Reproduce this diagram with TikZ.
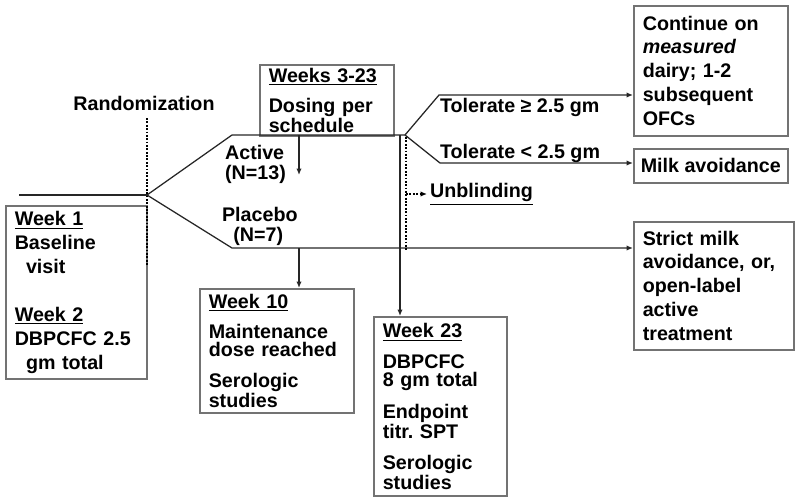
\documentclass[tikz,border=0pt]{standalone}
\usepackage{fontspec}
\setmainfont{Liberation Sans}
\usetikzlibrary{positioning,arrows.meta}

\begin{document}
\begin{tikzpicture}[
    x=0.025cm, y=-0.025cm,
    conn/.style={draw, line width=0.9pt, color=black!85},
    arr/.style={conn, -{Latex[length=4.5pt,width=3.8pt]}},
    dots/.style={draw, line width=1.4pt, dash pattern=on 1.3pt off 1.1pt},
    box/.style={draw=black!55, line width=1.1pt, anchor=north west, align=left, inner xsep=0.225cm, inner ysep=0pt, font=\fontsize{14}{17}\selectfont\bfseries},
    tbox/.style={box, font=\fontsize{14}{12.8}\selectfont\bfseries},
    lbl/.style={inner sep=2pt, align=left, font=\fontsize{14}{14.5}\selectfont\bfseries}
]
\useasboundingbox (0,0) rectangle (800,499);

% Boxes
\node[box, text width=3.075cm, minimum height=4.325cm] (wkone) at (5,205)
    {\underline{Week 1}\\Baseline\\\hspace*{8pt}visit\\[17pt]\underline{Week 2}\\DBPCFC 2.5\\\hspace*{8pt}gm total};
\node[tbox, text width=2.9cm, minimum height=1.775cm] (wksched) at (259,64)
    {\underline{Weeks 3-23}\\[9pt]Dosing per\\schedule};
\node[tbox, text width=3.4cm, minimum height=3.1cm] (wkten) at (199,288)
    {\underline{Week 10}\\[9pt]Maintenance\\dose reached\\[9pt]Serologic\\studies};
\node[tbox, text width=2.875cm, minimum height=4.475cm] (wkend) at (373,316)
    {\underline{Week 23}\\[9pt]DBPCFC\\8 gm total\\[9pt]Endpoint\\titr.\ SPT\\[9pt]Serologic\\studies};
\node[box, text width=3.4cm, minimum height=3.25cm] (contin) at (633,5)
    {Continue on\\\textit{measured}\\dairy; 1-2\\subsequent\\OFCs};
\node[box, minimum width=3.85cm, minimum height=0.85cm, inner xsep=0pt] (milkav) at (633,148)
    {Milk avoidance};
\node[box, text width=3.55cm, minimum height=3.2cm] (strict) at (633,221)
    {Strict milk\\avoidance, or,\\open-label\\active\\treatment};

% Labels
\node[lbl] (rndlbl) at (144,103) {Randomization};
\node[lbl, anchor=north west] (active) at (222,142) {Active\\(N=13)};
\node[lbl, anchor=north west] (placebo) at (219,204) {Placebo\\\hspace*{8pt}(N=7)};
\node[lbl, anchor=west] (tolup) at (437,107) {Tolerate ≥ 2.5 gm};
\node[lbl, anchor=west] (tollow) at (437,153) {Tolerate < 2.5 gm};
\node[lbl, anchor=west] (unblind) at (427,194) {\underline{Unblinding}};

% Branch points
\coordinate (lstart) at (19,195);
\coordinate (rnd) at (147,195);
\coordinate (actv) at (232,135);
\coordinate (plcb) at (232,248);
\coordinate (split) at (405,135);
\coordinate (tolhi) at (439,95);
\coordinate (tollo) at (440,163);
\coordinate (dosein) at (299,135);
\coordinate (doseout) at (299,175);
\coordinate (plcbdown) at (299,248);
\coordinate (wkdrop) at (400,135);
\coordinate (rndtop) at (147,118);
\coordinate (rndbot) at (147,265);
\coordinate (unbtop) at (406,137);
\coordinate (unbbot) at (406,250);
\coordinate (unbmid) at (406,194);

% Connectors
\draw[conn] (lstart) -- (rnd);
\draw[conn] (rnd) -- (actv) -- (split);
\draw[arr] (rnd) -- (plcb) -- (plcb -| strict.west);
\draw[arr] (dosein) -- (doseout);
\draw[arr] (plcbdown) -- (plcbdown |- wkten.north);
\draw[arr] (wkdrop) -- (wkdrop |- wkend.north);
\draw[arr] (split) -- (tolhi) -- (tolhi -| contin.west);
\draw[arr] (split) -- (tollo) -- (tollo -| milkav.west);

% Dotted lines
\draw[dots] (rndtop) -- (rndbot);
\draw[dots] (unbtop) -- (unbbot);
\draw[dots, -{Latex[length=4.5pt,width=3.8pt]}] (unbmid) -- (unblind.west);

\end{tikzpicture}
\end{document}
